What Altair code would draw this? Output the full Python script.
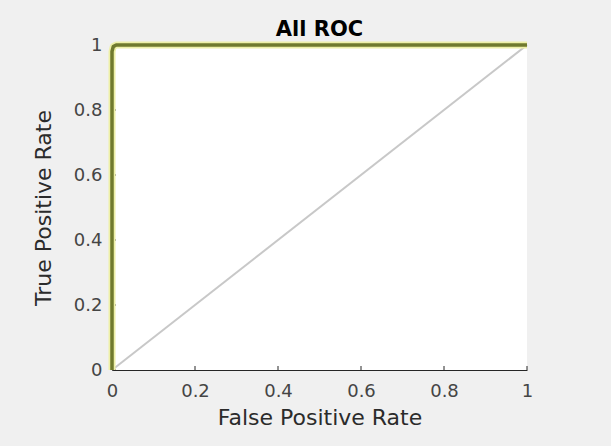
import altair as alt
import pandas as pd

roc_fpr = [0.0, 0.0, 0.003, 0.01, 1.0]
roc_tpr = [0.0, 0.98, 0.995, 1.0, 1.0]
diag_x = [0.0, 1.0]
diag_y = [0.0, 1.0]
tick_vals = [0, 0.2, 0.4, 0.6, 0.8, 1]

roc = pd.DataFrame({"fpr": roc_fpr, "tpr": roc_tpr, "order": range(len(roc_fpr))})
diag = pd.DataFrame({"fpr": diag_x, "tpr": diag_y})
ticks = pd.DataFrame({"fpr": tick_vals, "tpr": tick_vals})

font = "DejaVu Sans"
xs = alt.Scale(domain=[0, 1], nice=False)
ys = alt.Scale(domain=[0, 1], nice=False)

common = dict(values=tick_vals, format="~g", grid=False, ticks=False, domainColor="#262626",
              labelColor="#454545", labelFontSize=18, labelFont=font, titleFont=font,
              titleFontSize=22, titleFontWeight="normal", titleColor="#2b2b2b",
              labelFlush=False, labelOverlap=False)
xaxis = alt.Axis(title="False Positive Rate", labelPadding=12, titlePadding=7, **common)
yaxis = alt.Axis(title="True Positive Rate", labelPadding=10, titlePadding=18, **common)

X = alt.X("fpr:Q", scale=xs, axis=xaxis)
Y = alt.Y("tpr:Q", scale=ys, axis=yaxis)

base_axes = alt.Chart(diag).mark_line(color="#c8c8c8", strokeWidth=2).encode(x=X, y=Y)

xt = alt.Chart(ticks).mark_rule(color="#262626", strokeWidth=1).encode(
    x=X, y=alt.value(325), y2=alt.value(321))
yt = alt.Chart(ticks).mark_rule(color="#262626", strokeWidth=1).encode(
    y=Y, x=alt.value(0), x2=alt.value(4))

glow = alt.Chart(roc).mark_line(color="#eef0a8", strokeWidth=7, strokeJoin="round").encode(
    x=X, y=Y, order="order:Q")
line = alt.Chart(roc).mark_line(color="#707a2e", strokeWidth=3.5, strokeJoin="round").encode(
    x=X, y=Y, order="order:Q")

chart = alt.layer(base_axes, xt, yt, glow, line).properties(
    width=415, height=325,
    title=alt.TitleParams("All ROC", font=font, fontSize=21, fontWeight="bold", color="#000000", offset=-4),
    autosize=alt.AutoSizeParams(type="none"),
    padding={"left": 112, "top": 45, "right": 84, "bottom": 76},
    background="#f0f0f0",
).configure_view(fill="#ffffff", stroke=None)

chart.save("out.html", embed_options={"renderer": "svg", "actions": False})
